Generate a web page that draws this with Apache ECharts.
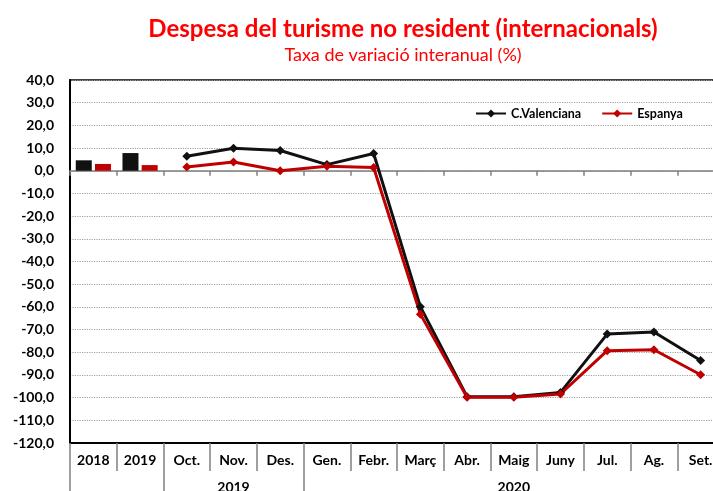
<!DOCTYPE html>
<html>
<head>
<meta charset="utf-8">
<script src="https://cdn.jsdelivr.net/npm/echarts@6/dist/echarts.min.js"></script>
<style>
  html, body { margin: 0; padding: 0; background: #fff; }
  #chart { width: 713px; height: 491px; }
</style>
</head>
<body>
<div id="chart"></div>
<script>
// categories and values
const categories = ['2018', '2019', 'Oct.', 'Nov.', 'Des.', 'Gen.', 'Febr.', 'Març', 'Abr.', 'Maig', 'Juny', 'Jul.', 'Ag.', 'Set.'];
const cvAnnual = [4.6, 7.8, null, null, null, null, null, null, null, null, null, null, null, null];
const esAnnual = [3.0, 2.5, null, null, null, null, null, null, null, null, null, null, null, null];
const cvMonthly = [null, null, 6.4, 9.9, 8.9, 2.7, 7.6, -59.9, -99.6, -99.6, -97.7, -72.0, -71.1, -83.6];
const esMonthly = [null, null, 1.7, 3.9, 0.0, 2.0, 1.4, -63.2, -99.8, -99.8, -98.4, -79.3, -78.9, -89.9];
const yearGroups = { 3: '2019', 9: '2020' };
const groupBreaks = [0, 2, 5];

const FONT = 'Lato';
const BLACK = '#000000';
const RED = '#c00000';

let myChart = echarts.init(document.getElementById('chart'));
let option = {
  animation: false,
  textStyle: { fontFamily: FONT },
  title: {
    text: 'Despesa del turisme no resident (internacionals)',
    subtext: 'Taxa de variació interanual (%)',
    left: 398,
    textAlign: 'center',
    top: 12,
    itemGap: 5,
    textStyle: { color: '#ff0000', fontSize: 24, fontWeight: 'bold', fontFamily: FONT },
    subtextStyle: { color: '#ff0000', fontSize: 18, fontFamily: FONT }
  },
  legend: {
    data: ['C.Valenciana', 'Espanya'],
    left: 470,
    top: 102,
    itemWidth: 30,
    itemHeight: 10,
    itemGap: 20,
    textStyle: { color: BLACK, fontSize: 12.5, fontWeight: 'bold', fontFamily: FONT }
  },
  grid: {
    left: 70,
    top: 80,
    width: 654,
    height: 363,
    outerBoundsMode: 'none',
    containLabel: false,
    show: true,
    borderColor: BLACK,
    borderWidth: 1.5
  },
  xAxis: [
    {
      // line at zero with small ticks
      type: 'category',
      data: categories,
      position: 'bottom',
      axisLine: { onZero: true, lineStyle: { color: '#808080', width: 1.5 } },
      axisTick: { show: true, length: 5, interval: 0, lineStyle: { color: '#808080', width: 1.5 } },
      axisLabel: { show: false },
      splitLine: { show: false }
    },
    {
      // category labels in the table under the plot
      type: 'category',
      data: categories,
      position: 'bottom',
      axisLine: { onZero: false, lineStyle: { color: BLACK, width: 2 } },
      axisTick: { show: true, length: 28, interval: 0, lineStyle: { color: '#808080', width: 1.5 } },
      axisLabel: { interval: 0, margin: 10, color: BLACK, fontSize: 14, fontWeight: 'bold', fontFamily: FONT },
      splitLine: { show: false }
    },
    {
      // year groups
      type: 'category',
      data: categories,
      position: 'bottom',
      axisLine: { show: false, onZero: false },
      axisTick: {
        show: true, length: 50,
        interval: function (i) { return groupBreaks.indexOf(i) >= 0; },
        lineStyle: { color: '#808080', width: 1.5 }
      },
      axisLabel: {
        interval: 0, margin: 37, color: BLACK, fontSize: 14, fontWeight: 'bold', fontFamily: FONT,
        formatter: function (v, i) { return yearGroups[i] || ''; }
      },
      splitLine: { show: false }
    }
  ],
  yAxis: {
    type: 'value',
    min: -120,
    max: 40,
    interval: 10,
    axisLine: { show: true, lineStyle: { color: BLACK, width: 2 } },
    axisTick: { show: false },
    axisLabel: {
      margin: 16, color: BLACK, fontSize: 14, fontWeight: 'bold', fontFamily: FONT,
      formatter: function (v) { return v.toFixed(1).replace('.', ','); }
    },
    splitLine: { show: true, lineStyle: { color: '#a0a0a0', type: 'dotted', width: 1.2 } }
  },
  series: [
    {
      name: 'C.Valenciana anual',
      type: 'bar',
      data: cvAnnual,
      barWidth: 16,
      barGap: '20%',
      itemStyle: { color: '#111111' }
    },
    {
      name: 'Espanya anual',
      type: 'bar',
      data: esAnnual,
      barWidth: 16,
      barGap: '20%',
      itemStyle: { color: RED }
    },
    {
      name: 'C.Valenciana',
      type: 'line',
      data: cvMonthly,
      symbol: 'diamond',
      symbolSize: 9,
      lineStyle: { color: '#111111', width: 3 },
      itemStyle: { color: '#111111' }
    },
    {
      name: 'Espanya',
      type: 'line',
      data: esMonthly,
      symbol: 'diamond',
      symbolSize: 9,
      lineStyle: { color: RED, width: 3 },
      itemStyle: { color: RED }
    }
  ]
};
myChart.setOption(option);
</script>
</body>
</html>
